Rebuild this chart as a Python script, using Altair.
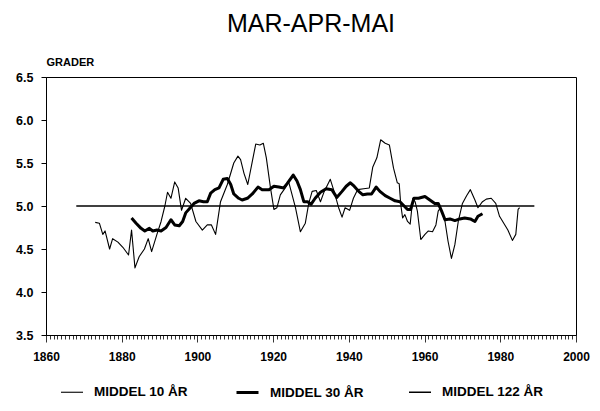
import altair as alt
import pandas as pd

SERIES = ["MIDDEL 10 ÅR", "MIDDEL 30 ÅR", "MIDDEL 122 ÅR"]

# 10-year running mean (thin line)
YEARS_10 = [1873.0, 1874.1, 1875.0, 1875.6, 1876.8, 1877.6, 1879.0, 1880.3, 1881.8, 1882.6,
            1883.5, 1884.6, 1886.0, 1887.0, 1887.9, 1889.3, 1890.4, 1891.4, 1892.1, 1893.0,
            1894.0, 1894.9, 1895.8, 1896.9, 1898.2, 1899.6, 1901.3, 1902.6, 1903.7, 1904.8,
            1906.1, 1907.9, 1909.6, 1910.7, 1911.4, 1912.3, 1913.3, 1914.5, 1915.4, 1916.5,
            1917.4, 1918.2, 1919.3, 1920.2, 1921.0, 1921.9, 1923.2, 1924.1, 1925.9, 1927.2,
            1928.5, 1929.4, 1930.3, 1931.4, 1932.5, 1933.5, 1935.1, 1936.1, 1937.3, 1938.2,
            1939.0, 1940.2, 1941.2, 1942.3, 1943.9, 1945.4, 1946.3, 1947.4, 1948.4, 1949.6,
            1950.7, 1951.8, 1952.8, 1953.3, 1953.7, 1954.2, 1954.8, 1955.5, 1956.2, 1956.9,
            1957.5, 1958.1, 1959.0, 1960.1, 1961.0, 1962.1, 1963.0, 1963.6, 1964.2, 1965.4,
            1966.2, 1967.1, 1968.0, 1968.9, 1970.0, 1971.1, 1972.1, 1973.3, 1974.1, 1975.3,
            1976.3, 1977.6, 1978.8, 1979.8, 1981.2, 1982.0, 1983.2, 1984.1, 1984.7, 1985.1]
VALUES_10 = [4.81, 4.80, 4.67, 4.71, 4.50, 4.62, 4.58, 4.52, 4.43, 4.72,
             4.28, 4.41, 4.50, 4.62, 4.47, 4.67, 4.82, 5.00, 5.16, 5.09,
             5.28, 5.21, 4.95, 5.09, 5.03, 4.82, 4.72, 4.78, 4.78, 4.67,
             5.05, 5.25, 5.50, 5.58, 5.54, 5.38, 5.25, 5.52, 5.72, 5.71,
             5.73, 5.56, 5.21, 4.96, 4.98, 5.13, 5.21, 5.28, 4.98, 4.70,
             4.80, 5.03, 5.17, 5.18, 5.05, 5.17, 5.31, 5.17, 4.98, 4.87,
             4.98, 4.95, 5.09, 5.19, 5.20, 5.21, 5.45, 5.56, 5.77, 5.73,
             5.71, 5.44, 5.27, 5.26, 5.02, 4.86, 4.90, 4.82, 4.79, 5.09,
             5.05, 4.94, 4.61, 4.67, 4.71, 4.70, 4.78, 4.94, 4.98, 4.82,
             4.59, 4.39, 4.55, 4.82, 5.03, 5.12, 5.19, 5.07, 4.98, 5.05,
             5.08, 5.09, 5.03, 4.88, 4.78, 4.72, 4.60, 4.67, 4.96, 4.98]

# 30-year running mean (thick line)
YEARS_30 = [1882.6, 1883.8, 1885.1, 1886.1, 1887.3, 1888.2, 1889.3, 1890.4, 1891.7, 1893.0,
            1894.0, 1895.2, 1896.1, 1896.9, 1898.1, 1899.1, 1900.4, 1901.6, 1902.6, 1903.5,
            1904.6, 1905.7, 1906.8, 1907.9, 1908.8, 1909.6, 1910.9, 1911.8, 1913.2, 1914.5,
            1916.0, 1917.1, 1918.9, 1920.2, 1921.5, 1922.8, 1923.7, 1925.3, 1926.3, 1927.2,
            1928.1, 1929.1, 1930.0, 1931.1, 1932.5, 1934.0, 1935.5, 1936.8, 1938.2, 1939.3,
            1940.4, 1941.4, 1942.6, 1943.7, 1944.9, 1946.0, 1947.2, 1948.2, 1949.6, 1950.9,
            1952.2, 1953.5, 1954.6, 1955.5, 1956.3, 1957.2, 1958.4, 1960.1, 1961.4, 1962.7,
            1963.6, 1964.5, 1965.4, 1966.7, 1968.0, 1969.3, 1970.6, 1972.1, 1973.3, 1974.1,
            1975.3]
VALUES_30 = [4.86, 4.80, 4.74, 4.71, 4.74, 4.71, 4.72, 4.71, 4.75, 4.84,
             4.78, 4.77, 4.82, 4.92, 4.98, 5.03, 5.06, 5.05, 5.05, 5.15,
             5.19, 5.21, 5.31, 5.32, 5.25, 5.14, 5.09, 5.07, 5.09, 5.14,
             5.22, 5.19, 5.19, 5.23, 5.22, 5.21, 5.26, 5.36, 5.29, 5.19,
             5.05, 5.05, 5.02, 5.09, 5.16, 5.20, 5.19, 5.10, 5.17, 5.23,
             5.27, 5.23, 5.17, 5.13, 5.14, 5.14, 5.22, 5.17, 5.12, 5.09,
             5.06, 5.05, 5.00, 4.96, 4.96, 5.09, 5.09, 5.11, 5.07, 5.03,
             5.03, 4.94, 4.84, 4.85, 4.83, 4.85, 4.86, 4.85, 4.82, 4.88,
             4.91]

# 122-year mean (straight line)
YEARS_122 = [1868, 1989]
VALUES_122 = [5.0, 5.0]

X_TICKS = list(range(1860, 2001))
Y_TICKS = [3.5, 4.0, 4.5, 5.0, 5.5, 6.0, 6.5]

df = pd.concat([
    pd.DataFrame({"year": YEARS_10, "value": VALUES_10, "series": SERIES[0]}),
    pd.DataFrame({"year": YEARS_30, "value": VALUES_30, "series": SERIES[1]}),
    pd.DataFrame({"year": YEARS_122, "value": VALUES_122, "series": SERIES[2]}),
], ignore_index=True)

FONT = "Liberation Sans"

chart = alt.Chart(df).mark_line(color="black", strokeJoin="round").encode(
    x=alt.X("year:Q",
            scale=alt.Scale(domain=[1860, 2000], nice=False, zero=False),
            axis=alt.Axis(values=X_TICKS, format="d",
                          labelExpr="datum.value % 20 === 0 ? datum.label : ''",
                          tickSize={"condition": {"test": "datum.value % 20 === 0", "value": 7}, "value": 4},
                          tickWidth=0.8, labelPadding=9, labelOverlap=False, labelFlush=False,
                          labelFont=FONT, labelFontSize=12, labelFontWeight="bold",
                          grid=False, title=None)),
    y=alt.Y("value:Q",
            scale=alt.Scale(domain=[3.5, 6.5], nice=False, zero=False),
            axis=alt.Axis(values=Y_TICKS, format=".1f", tickSize=5, labelPadding=8,
                          labelFont=FONT, labelFontSize=12.5, labelFontWeight="bold",
                          grid=False, title="GRADER", titleAngle=0, titleX=0, titleY=-15,
                          titleAlign="left", titleBaseline="middle",
                          titleFont=FONT, titleFontSize=11, titleFontWeight="bold")),
    strokeWidth=alt.StrokeWidth("series:N",
                                scale=alt.Scale(type="ordinal", domain=SERIES, range=[1.1, 3.0, 1.5]),
                                legend=alt.Legend(orient="none", legendX=14, legendY=303,
                                                  direction="horizontal", title=None,
                                                  symbolType="stroke", symbolSize=484,
                                                  symbolStrokeColor="black",
                                                  labelFont=FONT, labelFontSize=13.5,
                                                  labelFontWeight="bold", labelColor="black",
                                                  labelOffset=10, columnPadding=42)),
).properties(
    width=530, height=258,
    title=alt.TitleParams("MAR-APR-MAI", font=FONT, fontSize=25, fontWeight="normal",
                          anchor="middle", frame="group", offset=19, color="black"),
    autosize=alt.AutoSizeParams(type="none"),
    padding={"left": 38, "top": 69, "right": 16, "bottom": 68},
).configure_view(
    stroke="black", strokeWidth=1
).configure_axis(
    domainColor="black", tickColor="black", labelColor="black", titleColor="black"
)

chart.save("out.html", embed_options={"renderer": "svg", "actions": False})
